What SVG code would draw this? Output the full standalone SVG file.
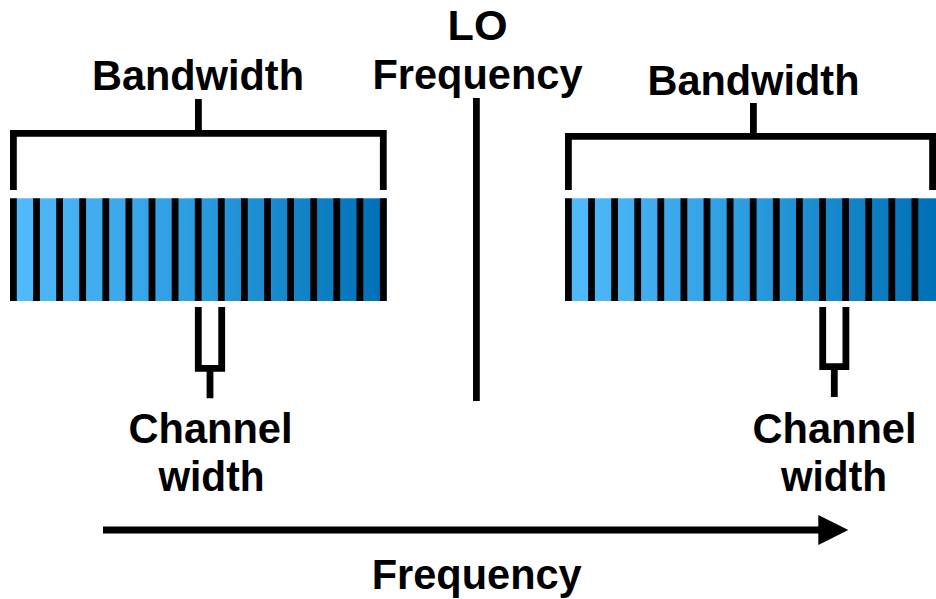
<svg xmlns="http://www.w3.org/2000/svg" width="936" height="599" viewBox="0 0 936 599">
<style>
  .t { font-family: "Liberation Sans", Arial, sans-serif; font-weight: bold; font-size: 42px; fill: #000; text-anchor: middle; }
  .ln { fill: none; stroke: #000; stroke-width: 6.8; stroke-linejoin: miter; stroke-linecap: butt; }
  .bar { fill: #000; }
</style>
<defs>
  <linearGradient id="gL" gradientUnits="userSpaceOnUse" x1="10" y1="0" x2="387" y2="0">
    <stop offset="0" stop-color="#52BBFC"/>
    <stop offset="0.5" stop-color="#2B9BDF"/>
    <stop offset="1" stop-color="#0070B6"/>
  </linearGradient>
  <linearGradient id="gR" gradientUnits="userSpaceOnUse" x1="565" y1="0" x2="936" y2="0">
    <stop offset="0" stop-color="#52BBFC"/>
    <stop offset="0.5" stop-color="#2B9BDF"/>
    <stop offset="1" stop-color="#0070B6"/>
  </linearGradient>
</defs>

<g id="band-left">
  <rect x="10" y="198.3" width="376.7" height="102.7" fill="url(#gL)"/>
  <g class="bar">
    <rect x="10" y="198.3" width="6.8" height="102.7"/>
    <rect x="33.1" y="198.3" width="6.8" height="102.7"/>
    <rect x="56.2" y="198.3" width="6.8" height="102.7"/>
    <rect x="79.3" y="198.3" width="6.8" height="102.7"/>
    <rect x="102.4" y="198.3" width="6.8" height="102.7"/>
    <rect x="125.5" y="198.3" width="6.8" height="102.7"/>
    <rect x="148.6" y="198.3" width="6.8" height="102.7"/>
    <rect x="171.7" y="198.3" width="6.8" height="102.7"/>
    <rect x="194.8" y="198.3" width="6.8" height="102.7"/>
    <rect x="217.9" y="198.3" width="6.8" height="102.7"/>
    <rect x="241" y="198.3" width="6.8" height="102.7"/>
    <rect x="264.1" y="198.3" width="6.8" height="102.7"/>
    <rect x="287.2" y="198.3" width="6.8" height="102.7"/>
    <rect x="310.3" y="198.3" width="6.8" height="102.7"/>
    <rect x="333.4" y="198.3" width="6.8" height="102.7"/>
    <rect x="356.5" y="198.3" width="6.8" height="102.7"/>
    <rect x="379.9" y="198.3" width="6.8" height="102.7"/>
  </g>
</g>

<g id="band-right">
  <rect x="565" y="198.3" width="371" height="102.7" fill="url(#gR)"/>
  <g class="bar">
    <rect x="565" y="198.3" width="6.8" height="102.7"/>
    <rect x="588.1" y="198.3" width="6.8" height="102.7"/>
    <rect x="611.2" y="198.3" width="6.8" height="102.7"/>
    <rect x="634.3" y="198.3" width="6.8" height="102.7"/>
    <rect x="657.4" y="198.3" width="6.8" height="102.7"/>
    <rect x="680.5" y="198.3" width="6.8" height="102.7"/>
    <rect x="703.6" y="198.3" width="6.8" height="102.7"/>
    <rect x="726.7" y="198.3" width="6.8" height="102.7"/>
    <rect x="749.8" y="198.3" width="6.8" height="102.7"/>
    <rect x="772.9" y="198.3" width="6.8" height="102.7"/>
    <rect x="796" y="198.3" width="6.8" height="102.7"/>
    <rect x="819.1" y="198.3" width="6.8" height="102.7"/>
    <rect x="842.2" y="198.3" width="6.8" height="102.7"/>
    <rect x="865.3" y="198.3" width="6.8" height="102.7"/>
    <rect x="888.4" y="198.3" width="6.8" height="102.7"/>
    <rect x="911.5" y="198.3" width="6.8" height="102.7"/>
  </g>
</g>

<g id="bandwidth-left">
  <path class="ln" d="M13.4,190 V133.4 H383.3 V190 M198.4,99 V133.4"/>
  <text class="t" x="198" y="90" textLength="212" lengthAdjust="spacingAndGlyphs">Bandwidth</text>
</g>

<g id="bandwidth-right">
  <path class="ln" d="M568.4,190 V136.4 H932.6 V190 M753.4,103 V136.4"/>
  <text class="t" x="753.5" y="95" textLength="212" lengthAdjust="spacingAndGlyphs">Bandwidth</text>
</g>

<g id="lo-frequency">
  <path class="ln" d="M476.4,98 V401"/>
  <text class="t" x="477.5" y="40" textLength="60" lengthAdjust="spacingAndGlyphs">LO</text>
  <text class="t" x="477.5" y="89" textLength="210" lengthAdjust="spacingAndGlyphs">Frequency</text>
</g>

<g id="channel-left">
  <path class="ln" d="M198.3,307 V368.3 H221.7 V307 M210,368.3 V398.3"/>
  <text class="t" x="210.5" y="443" textLength="164" lengthAdjust="spacingAndGlyphs">Channel</text>
  <text class="t" x="211.5" y="491" textLength="106" lengthAdjust="spacingAndGlyphs">width</text>
</g>

<g id="channel-right">
  <path class="ln" d="M822.7,307 V366.7 H845.9 V307 M834.3,366.7 V397"/>
  <text class="t" x="834.5" y="443" textLength="164" lengthAdjust="spacingAndGlyphs">Channel</text>
  <text class="t" x="834" y="491" textLength="106" lengthAdjust="spacingAndGlyphs">width</text>
</g>

<g id="connectors">
  <path class="ln" d="M103,530 H822"/>
  <polygon points="818.3,515 848.3,530 818.3,545" fill="#000"/>
  <text class="t" x="476.7" y="589" textLength="210" lengthAdjust="spacingAndGlyphs">Frequency</text>
</g>
</svg>
